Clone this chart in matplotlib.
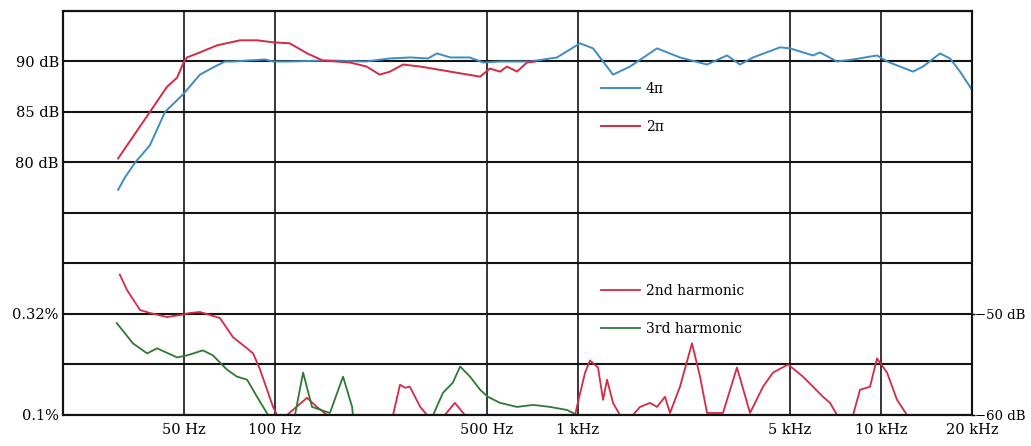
import numpy as np
import matplotlib
matplotlib.use("Agg")
import matplotlib.pyplot as plt
from matplotlib.ticker import NullLocator

plt.rcParams["font.family"] = ["DejaVu Serif"]
plt.rcParams["font.size"] = 10.5

# ----- frequency response, 4pi and 2pi (Hz, dB) -----
f_4pi = [30.4, 32.0, 34.6, 38.7, 43.4, 50, 56.6, 62.5, 68.5, 72.8, 92.8, 98.7,
         110, 150, 200, 240, 280, 320, 343, 380, 440, 487, 554, 696, 854, 1017,
         1123, 1307, 1487, 1826, 2174, 2670, 3108, 3430, 3787, 4650, 5018,
         5974, 6300, 7170, 8099, 9717, 10486, 12776, 13784, 15686, 16922,
         18258, 20000]
db_4pi = [77.3, 78.5, 80.0, 81.7, 85.0, 86.8, 88.7, 89.4, 90.0, 90.0, 90.2, 90.0,
          90.0, 90.1, 90.0, 90.3, 90.4, 90.3, 90.8, 90.4, 90.4, 89.9, 90.0, 90.0,
          90.4, 91.8, 91.3, 88.7, 89.5, 91.3, 90.4, 89.7, 90.6, 89.7, 90.4, 91.4,
          91.3, 90.6, 90.9, 90.0, 90.2, 90.6, 90.0, 89.0, 89.5, 90.8, 90.3,
          89.0, 87.2]

f_2pi = [30.4, 38.7, 44.1, 47.6, 50, 51.3, 56.6, 64.5, 76.8, 87.4, 98.7, 112,
         128, 144, 177, 201, 222, 240, 265, 302, 379, 476, 513, 554, 584, 630,
         680, 723]
db_2pi = [80.4, 85.0, 87.5, 88.4, 89.9, 90.4, 90.9, 91.6, 92.1, 92.1, 91.9, 91.8,
          90.8, 90.1, 89.9, 89.5, 88.7, 89.0, 89.7, 89.5, 89.0, 88.5, 89.3, 89.0,
          89.5, 89.0, 89.9, 90.0]

# ----- harmonic distortion (Hz, dB rel.) -----
f_h2 = [30.8, 32.5, 35.9, 38.7, 44.1, 48.7, 52.5, 56.6, 61.1, 65.9, 72.8, 81.0,
        84.8, 89.4, 94.3, 98.7, 101.7, 109.7, 127.7, 137.8, 148.7, 245.6, 259,
        269, 279, 302, 318, 364, 393, 424, 980, 1000, 1057, 1097, 1166, 1212,
        1249, 1307, 1378, 1521, 1604, 1731, 1826, 1940, 2015, 2174, 2382, 2532,
        2670, 3014, 3352, 3702, 4086, 4409, 4942, 5536, 6447, 6800, 7170, 8099,
        8540, 9214, 9717, 10486, 11313, 12206]
db_h2 = [-46.1, -47.6, -49.6, -49.9, -50.3, -50.1, -49.9, -49.8, -50.1, -50.4,
         -52.3, -53.4, -53.9, -55.5, -57.5, -59.2, -60, -60, -58.3, -59.2, -60,
         -60, -57.0, -57.3, -57.2, -59.2, -60, -60, -58.8, -60, -60, -58.8,
         -55.8, -54.6, -55.3, -58.5, -56.5, -58.8, -60, -60, -59.2, -58.8,
         -59.2, -58.2, -59.8, -57.2, -52.9, -56.2, -59.8, -59.8, -55.3, -59.8,
         -57.2, -55.8, -55.0, -56.2, -58.2, -58.8, -60, -60, -57.5, -57.2, -54.4,
         -55.8, -58.5, -60]

f_h3 = [30.1, 34.0, 37.9, 40.9, 47.6, 51.3, 57.9, 62.5, 69.5, 75.0, 81.0, 87.4,
        95.0, 116.6, 124, 132.7, 152, 168, 180, 181, 333, 359, 387, 409, 441,
        476, 505, 554, 630, 712, 810, 921, 994]
db_h3 = [-50.9, -52.9, -53.9, -53.4, -54.3, -54.1, -53.6, -54.1, -55.5, -56.2,
         -56.5, -58.2, -60, -60, -55.8, -59.2, -59.8, -56.2, -59.2, -60, -60,
         -57.8, -56.8, -55.2, -56.2, -57.5, -58.2, -58.8, -59.2, -59.0, -59.2,
         -59.5, -60]

x_ticks = [50, 100, 500, 1000, 5000, 10000, 20000]
x_labels = ["50 Hz", "100 Hz", "500 Hz", "1 kHz", "5 kHz", "10 kHz", "20 kHz"]

BLUE = "#3d8cc4"
RED = "#d42a45"
GREEN = "#2f7a33"
GRID = "#141414"

fig = plt.figure(figsize=(10.31, 4.46), dpi=100, facecolor="white")
ax = fig.add_axes([63 / 1031, 1 - 415 / 446, 909 / 1031, 404 / 446])
ax2 = ax.twinx()

ax.set_xscale("log")
ax.set_xlim(20, 20000)
ax.set_ylim(55, 95)
ax2.set_ylim(-60, -20)

# left axis carries both scales, as in the original print
ax.set_yticks(np.arange(55, 96, 5))
ax.set_yticklabels(["0.1%", "", "0.32%", "", "", "80 dB", "85 dB", "90 dB", ""])
ax2.set_yticks([-60, -50])
ax2.set_yticklabels(["\u221260 dB", "\u221250 dB"], fontsize=9.5)

ax.set_xticks(x_ticks)
ax.set_xticklabels(x_labels)
ax.xaxis.set_minor_locator(NullLocator())
ax.tick_params(axis="x", length=0, pad=6)
ax.tick_params(axis="y", length=0, pad=3)
ax2.tick_params(axis="y", length=2, width=1, pad=0.5)

ax.grid(axis="y", color=GRID, linewidth=1.5)
ax.grid(axis="x", color=GRID, linewidth=1.2)
for a in (ax, ax2):
    for s in a.spines.values():
        s.set_color(GRID)
        s.set_linewidth(1.5)

ax.plot(f_4pi, db_4pi, color=BLUE, linewidth=1.4, label="4\u03c0")
ax.plot(f_2pi, db_2pi, color=RED, linewidth=1.4, label="2\u03c0")
ax2.plot(f_h2, db_h2, color=RED, linewidth=1.3, label="2nd harmonic")
ax2.plot(f_h3, db_h3, color=GREEN, linewidth=1.3, label="3rd harmonic")

ax.legend(loc="upper left", bbox_to_anchor=(0.592, 0.825), frameon=False,
          borderpad=0, borderaxespad=0, handlelength=2.8, handletextpad=0.4,
          labelspacing=1.75, fontsize=10)
ax2.legend(loc="upper left", bbox_to_anchor=(0.592, 0.325), frameon=False,
           borderpad=0, borderaxespad=0, handlelength=2.8, handletextpad=0.4,
           labelspacing=1.75, fontsize=10)

fig.savefig("out.png", dpi=100, facecolor="white")
